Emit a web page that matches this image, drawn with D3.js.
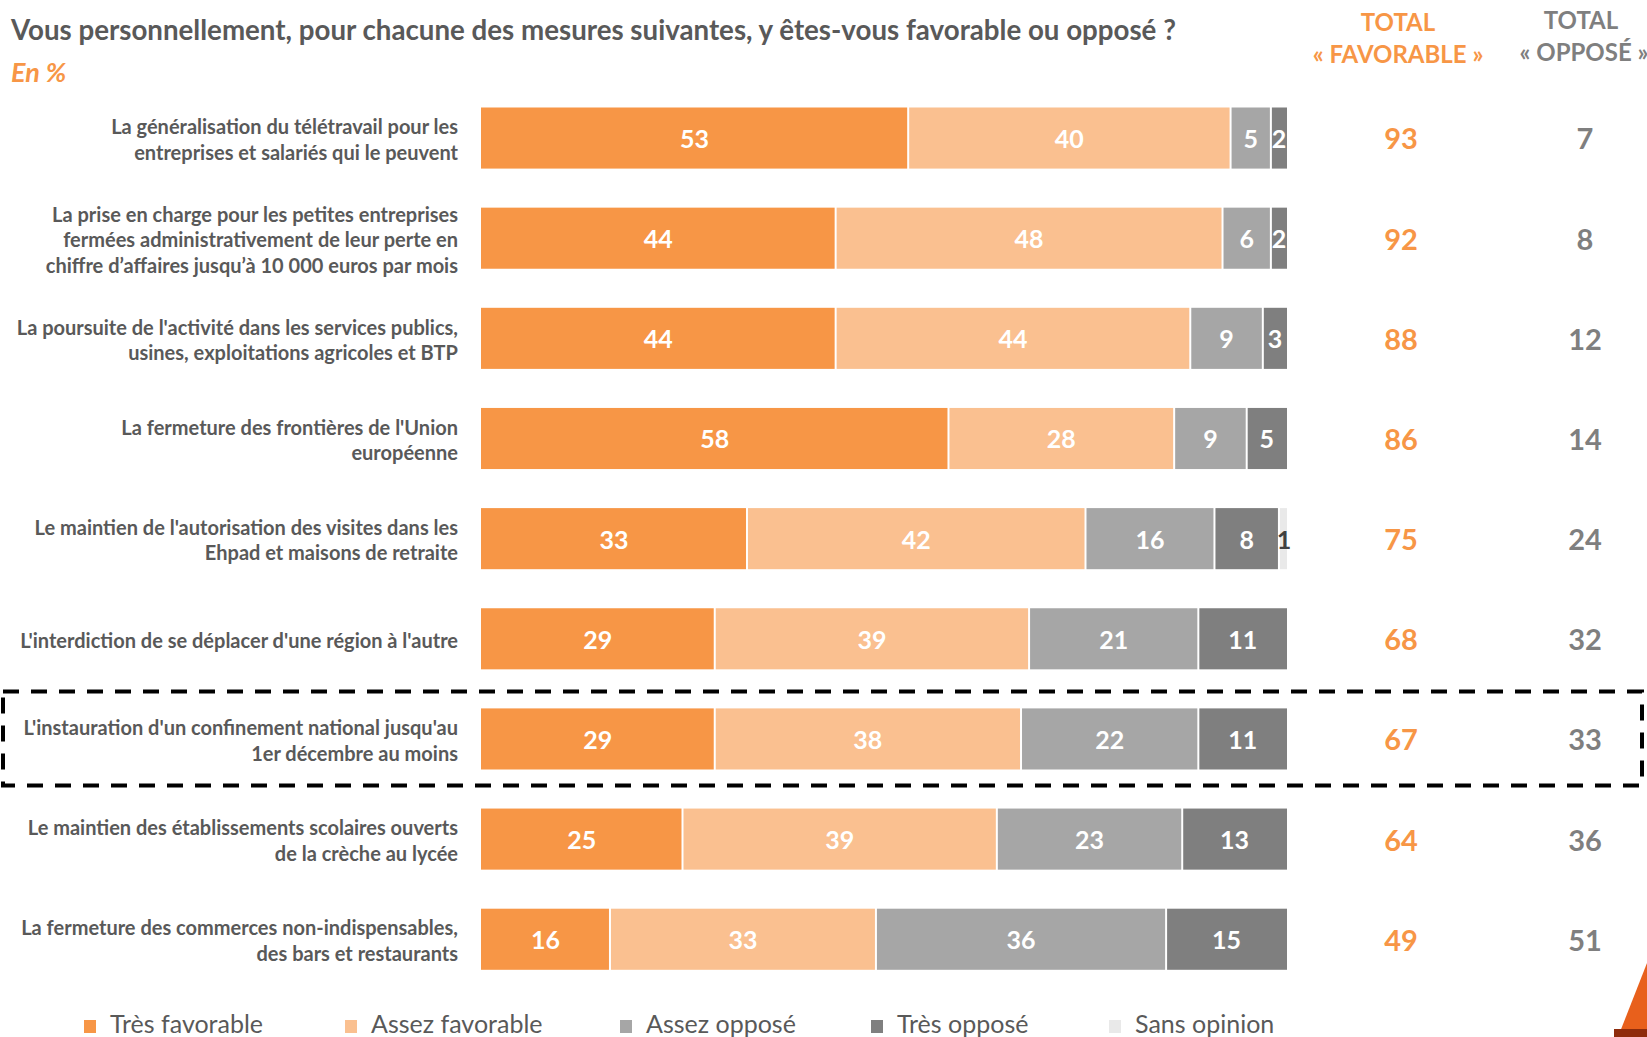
<!DOCTYPE html>
<html><head><meta charset="utf-8">
<script src="https://cdn.jsdelivr.net/npm/d3@7"></script>
<style>body{margin:0;background:#fff}svg{display:block}text{font-family:Lato,"Open Sans",sans-serif}</style>
</head><body>
<script>
const categories = [
  ["La généralisation du télétravail pour les","entreprises et salariés qui le peuvent"],
  ["La prise en charge pour les petites entreprises","fermées administrativement de leur perte en","chiffre d’affaires jusqu’à 10 000 euros par mois"],
  ["La poursuite de l'activité dans les services publics,","usines, exploitations agricoles et BTP"],
  ["La fermeture des frontières de l'Union","européenne"],
  ["Le maintien de l'autorisation des visites dans les","Ehpad et maisons de retraite"],
  ["L'interdiction de se déplacer d'une région à l'autre"],
  ["L'instauration d'un confinement national jusqu'au","1er décembre au moins"],
  ["Le maintien des établissements scolaires ouverts","de la crèche au lycée"],
  ["La fermeture des commerces non-indispensables,","des bars et restaurants"]
];
const seriesNames = ["Très favorable","Assez favorable","Assez opposé","Très opposé","Sans opinion"];
const tresFavorable = [53,44,44,58,33,29,29,25,16];
const assezFavorable = [40,48,44,28,42,39,38,39,33];
const assezOppose   = [5,6,9,9,16,21,22,23,36];
const tresOppose    = [2,2,3,5,8,11,11,13,15];
const sansOpinion   = [0,0,0,0,1,0,0,0,0];
const totalFavorable = [93,92,88,86,75,68,67,64,49];
const totalOppose    = [7,8,12,14,24,32,33,36,51];
const highlighted = 6;

const colors = ["#F79646","#FAC090","#A6A6A6","#7F7F7F","#E9E9E9"];
const W=1647,H=1037;
const svg=d3.select("body").append("svg").attr("width",W).attr("height",H);

const ids=categories.map((c,i)=>i);
const step=100.15, r0=107.5-0.195*step;
const y=d3.scaleBand().domain(ids).range([r0,r0+9*step]).paddingInner(0.39).paddingOuter(0.195);
const x=d3.scaleLinear().domain([0,100]).range([481,1287]);

const series=[tresFavorable,assezFavorable,assezOppose,tresOppose,sansOpinion];
const rows=ids.map(i=>{const o={i};seriesNames.forEach((s,k)=>o[s]=series[k][i]);return o;});
const stacked=d3.stack().keys(seriesNames)(rows);

// title
svg.append("text").attr("x",11).attr("y",40).attr("font-size",27.7).attr("font-weight",700).attr("fill","#595959")
  .text("Vous personnellement, pour chacune des mesures suivantes, y êtes-vous favorable ou opposé ?");
svg.append("text").attr("x",11).attr("y",82).attr("font-size",27).attr("font-weight",700).attr("font-style","italic").attr("fill","#F79646").text("En %");
// headers
const hf=svg.append("g").attr("font-size",24).attr("font-weight",700).attr("text-anchor","middle");
hf.append("text").attr("x",1398).attr("y",31).attr("fill","#F79646").text("TOTAL");
hf.append("text").attr("x",1398).attr("y",63).attr("fill","#F79646").text("« FAVORABLE »");
hf.append("text").attr("x",1581).attr("y",29).attr("fill","#7F7F7F").text("TOTAL");
hf.append("text").attr("x",1584).attr("y",61).attr("fill","#7F7F7F").text("« OPPOSÉ »");

// bars
const layers=svg.append("g").selectAll("g").data(stacked).join("g").attr("fill",(d,k)=>colors[k]);
layers.selectAll("rect").data(d=>d.filter(p=>p[1]-p[0]>0)).join("rect")
  .attr("x",d=>x(d[0])+(d[0]>0?1:0)).attr("y",d=>y(d.data.i))
  .attr("width",d=>x(d[1])-x(d[0])-(d[0]>0?1:0)-(d[1]<100?1:0)).attr("height",y.bandwidth());
layers.selectAll("text").data((d,k)=>d.filter(p=>p[1]-p[0]>0).map(p=>({p,k}))).join("text")
  .attr("x",d=>(x(d.p[0])+x(d.p[1]))/2+(d.k===4?1:0)).attr("y",d=>y(d.p.data.i)+y.bandwidth()/2+1).attr("dy","0.36em")
  .attr("text-anchor","middle").attr("font-size",25).attr("font-weight",700)
  .attr("fill",d=>d.k===4?"#404040":"#fff").text(d=>d.p[1]-d.p[0]);

// labels
const lab=svg.append("g").attr("font-size",20).attr("font-weight",700).attr("fill","#595959").attr("text-anchor","end");
categories.forEach((lines,i)=>{
  const cy=y(i)+y.bandwidth()/2+2, lh=25.5;
  lines.forEach((l,j)=>{
    lab.append("text").attr("x",458).attr("y",cy+(j-(lines.length-1)/2)*lh).attr("dy","0.35em").text(l);
  });
});
// totals
const tg=svg.append("g").attr("font-size",29).attr("font-weight",700).attr("text-anchor","middle");
tg.selectAll(".tf").data(totalFavorable).join("text").attr("x",1401).attr("y",(d,i)=>y(i)+y.bandwidth()/2+1).attr("dy","0.36em").attr("fill","#F79646").text(d=>d);
tg.selectAll(".to").data(totalOppose).join("text").attr("x",1585).attr("y",(d,i)=>y(i)+y.bandwidth()/2+1).attr("dy","0.36em").attr("fill","#7F7F7F").text(d=>d);

// highlight box
const hy=y(highlighted);
svg.append("rect").attr("x",3).attr("y",hy-17).attr("width",1639).attr("height",94)
  .attr("fill","none").attr("stroke","#000").attr("stroke-width",4).attr("stroke-dasharray","16,12");

// legend
const lx=[84,345,620,871,1109];
const lg=svg.append("g").selectAll("g").data(seriesNames).join("g").attr("transform",(d,k)=>`translate(${lx[k]},0)`);
lg.append("rect").attr("x",0).attr("y",1020).attr("width",12).attr("height",13).attr("fill",(d,k)=>colors[k]);
lg.append("text").attr("x",26).attr("y",1033).attr("font-size",25).attr("fill","#595959").text(d=>d);

// decoration corner
svg.append("polygon").attr("points","1618,1037 1647,963 1647,1037").attr("fill","#E8601C");
svg.append("rect").attr("x",1614).attr("y",1029).attr("width",33).attr("height",8).attr("fill","#8E2C0C");
</script>
</body></html>
